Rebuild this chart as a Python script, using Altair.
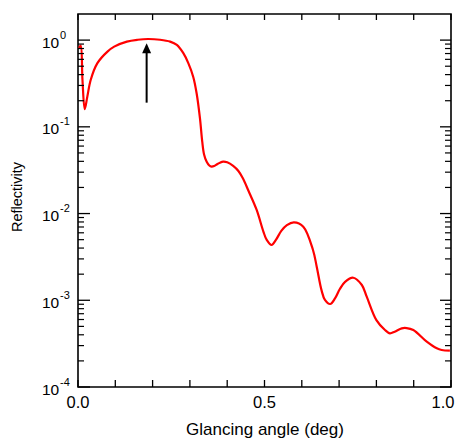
import altair as alt
import pandas as pd

# Reflectivity curve
angle = [0.0027, 0.0072, 0.012, 0.018, 0.025, 0.034, 0.052, 0.079, 0.097, 0.131,
         0.160, 0.188, 0.220, 0.247, 0.265, 0.282, 0.296, 0.309, 0.318, 0.327,
         0.333, 0.338, 0.345, 0.352, 0.358, 0.365, 0.375, 0.389, 0.400, 0.416,
         0.430, 0.442, 0.457, 0.479, 0.497, 0.506, 0.519, 0.531, 0.545, 0.560, 0.579,
         0.604, 0.630, 0.640, 0.653, 0.662, 0.676, 0.689, 0.702, 0.716, 0.738,
         0.761, 0.774, 0.800, 0.823, 0.836, 0.849, 0.868, 0.881, 0.899, 0.935,
         0.962, 0.975, 0.997]
refl = [0.806, 0.864, 0.347, 0.160, 0.223, 0.347, 0.542, 0.737, 0.841, 0.961,
        1.01, 1.03, 1.01, 0.961, 0.88, 0.711, 0.54, 0.376, 0.244, 0.125,
        0.068, 0.048, 0.0395, 0.0358, 0.0348, 0.0353, 0.0375, 0.0397, 0.0390, 0.0355,
        0.031, 0.0255, 0.0183, 0.011, 0.0062, 0.00496, 0.00434, 0.0050, 0.0063, 0.00735, 0.0079,
        0.00706, 0.0038, 0.00244, 0.0013, 0.00101, 0.000906, 0.00105, 0.00135, 0.00163, 0.00182,
        0.0015, 0.0011, 0.00059, 0.000454, 0.000416, 0.000434, 0.000475, 0.000478, 0.000454, 0.000333,
        0.000279, 0.000267, 0.000262]

# Arrow annotation
arrow_x = [0.184]
arrow_y0 = [0.19]
arrow_y1 = [0.80]
arrow_tip = [0.921]

# Tick values and labels
x_ticks = [0.0, 0.1, 0.2, 0.3, 0.4, 0.5, 0.6, 0.7, 0.8, 0.9, 1.0]
x_labels = [0.0, 0.5]
x_label_text = ["0.0", "0.5"]
x_last_label = [1.0]
x_last_text = ["1.0"]
y_exp = [0, -1, -2, -3, -4]
y_minor = [k * 10.0 ** e for e in [-4, -3, -2, -1] for k in range(2, 10)]

W, H = 373, 373
FONT = "Liberation Sans"

curve = pd.DataFrame({"x": angle, "y": refl})
xs = alt.Scale(domain=[0, 1], nice=False, zero=False)
ys = alt.Scale(type="log", domain=[1e-4, 2], nice=False)

X = alt.X("x:Q", scale=xs, axis=None)
Y = alt.Y("y:Q", scale=ys, axis=None)

line = alt.Chart(curve).mark_line(color="#ff0000", strokeWidth=2.2,
                                  interpolate="catmull-rom").encode(x=X, y=Y)

arr = pd.DataFrame({"x": arrow_x, "y": arrow_y0, "y2": arrow_y1, "tip": arrow_tip})
shaft = alt.Chart(arr).mark_rule(color="black", strokeWidth=2).encode(x=X, y=Y, y2="y2:Q")
head = alt.Chart(arr).mark_point(shape="M0,0L0.9,2L-0.9,2Z", filled=True, color="black",
                                 size=100, opacity=1, strokeWidth=0).encode(
    x=X, y=alt.Y("tip:Q", scale=ys, axis=None))

xt = pd.DataFrame({"x": x_ticks})
xtick_b = alt.Chart(xt).mark_rule(color="black", strokeWidth=1.3).encode(
    x=X, y=alt.value(H), y2=alt.value(H - 7))
xtick_t = alt.Chart(xt).mark_rule(color="black", strokeWidth=1.3).encode(
    x=X, y=alt.value(0), y2=alt.value(6))

ymaj = pd.DataFrame({"y": [10.0 ** e for e in y_exp], "e": [str(e) for e in y_exp]})
ymin = pd.DataFrame({"y": y_minor})
ytick_l = alt.Chart(ymaj).mark_rule(color="black", strokeWidth=1.3).encode(
    y=Y, x=alt.value(0), x2=alt.value(12))
ytick_r = alt.Chart(ymaj).mark_rule(color="black", strokeWidth=1.3).encode(
    y=Y, x=alt.value(W), x2=alt.value(W - 11))
ymin_l = alt.Chart(ymin).mark_rule(color="black", strokeWidth=1.2).encode(
    y=Y, x=alt.value(0), x2=alt.value(6))
ymin_r = alt.Chart(ymin).mark_rule(color="black", strokeWidth=1.2).encode(
    y=Y, x=alt.value(W), x2=alt.value(W - 6))

ylab_base = alt.Chart(ymaj).mark_text(font=FONT, fontSize=15.5, align="left", baseline="alphabetic",
                                      dy=7.5, color="black").encode(
    y=Y, x=alt.value(-36), text=alt.value("10"))
ylab_exp = alt.Chart(ymaj).mark_text(font=FONT, fontSize=11, align="left", baseline="alphabetic",
                                     dy=-1.5, color="black").encode(
    y=Y, x=alt.value(-18), text="e:N")

xl = pd.DataFrame({"x": x_labels, "t": x_label_text})
xlab = alt.Chart(xl).mark_text(font=FONT, fontSize=16.5, align="center", baseline="alphabetic",
                               color="black").encode(
    x=X, y=alt.value(H + 21), text="t:N")
xl2 = pd.DataFrame({"x": x_last_label, "t": x_last_text})
xlab2 = alt.Chart(xl2).mark_text(font=FONT, fontSize=16.5, align="center", baseline="alphabetic",
                                 dx=-8, color="black").encode(
    x=X, y=alt.value(H + 21), text="t:N")

titles = pd.DataFrame({"a": [0]})
xtitle = alt.Chart(titles).mark_text(font=FONT, fontSize=17, align="center", baseline="alphabetic",
                                     color="black").encode(
    x=alt.value(W / 2 + 0.5), y=alt.value(421), text=alt.value("Glancing angle (deg)"))
ytitle = alt.Chart(titles).mark_text(font=FONT, fontSize=14.5, align="center", baseline="middle",
                                     angle=270, color="black").encode(
    x=alt.value(-60), y=alt.value(183), text=alt.value("Reflectivity"))

chart = alt.layer(
    line, shaft, head, xtick_b, xtick_t, ytick_l, ytick_r, ymin_l, ymin_r,
    ylab_base, ylab_exp, xlab, xlab2, xtitle, ytitle
).properties(
    width=W, height=H,
    autosize=alt.AutoSizeParams(type="none"),
    padding={"left": 70, "top": 6, "right": 4, "bottom": 52},
).configure_view(stroke="black", strokeWidth=1.6)

chart.save("out.html", embed_options={"renderer": "svg", "actions": False})
